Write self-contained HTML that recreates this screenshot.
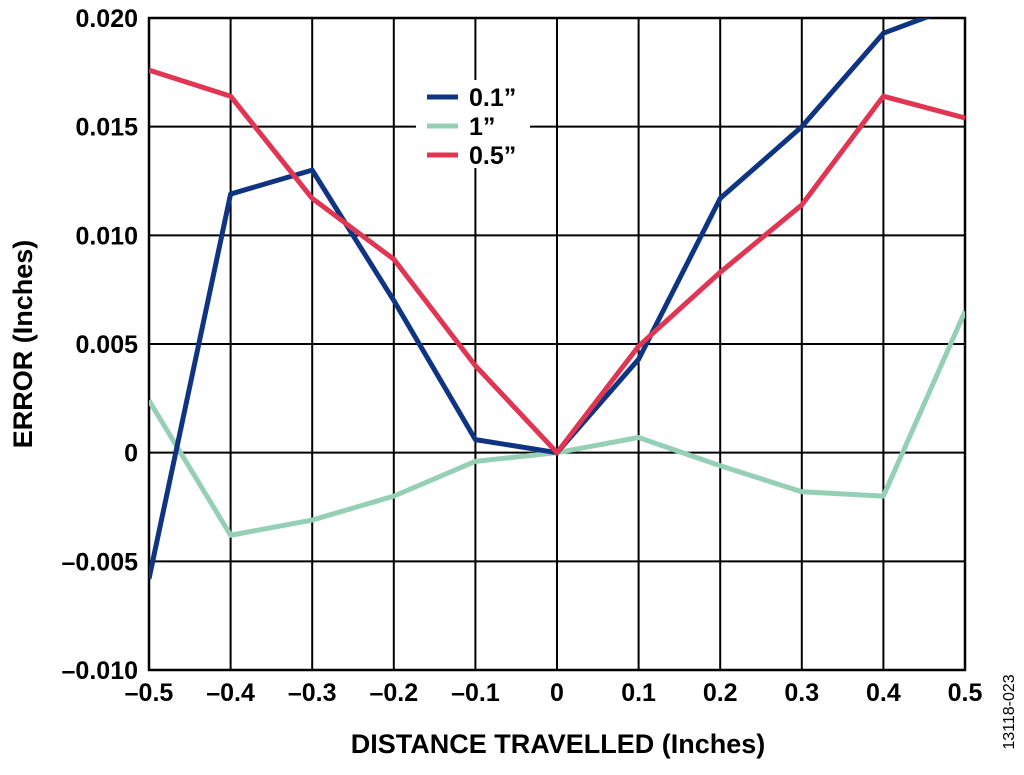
<!DOCTYPE html>
<html><head><meta charset="utf-8"><style>
body{margin:0;background:#fff;width:1024px;height:770px;overflow:hidden}
text{font-family:"Liberation Sans",Arial,sans-serif;font-weight:bold;fill:#000}
</style></head><body>
<svg id="chart" width="1024" height="770" xmlns="http://www.w3.org/2000/svg">
<defs><clipPath id="clip"><rect x="149" y="18" width="816" height="652"/></clipPath></defs>
<g id="grid"></g>
<g id="series" clip-path="url(#clip)"></g>
<g id="ticks"></g>
<g>
<rect x="416" y="80" width="114" height="88" fill="#fff"/>
<g><line x1="427" y1="97" x2="458" y2="97" stroke="#0f3582" stroke-width="5"/><text x="469" y="106" font-size="25">0.1”</text></g>
<g><line x1="427" y1="126" x2="458" y2="126" stroke="#95cfb5" stroke-width="5"/><text x="469" y="135" font-size="25">1”</text></g>
<g><line x1="427" y1="155" x2="458" y2="155" stroke="#e03553" stroke-width="5"/><text x="469" y="164" font-size="25">0.5”</text></g>
</g>
<text x="558" y="753" font-size="27" text-anchor="middle">DISTANCE TRAVELLED (Inches)</text>
<text transform="translate(32,344) rotate(-90)" font-size="27" text-anchor="middle">ERROR (Inches)</text>
<text transform="translate(1014,712) rotate(-90)" font-size="16" style="font-weight:normal" text-anchor="middle">13118-023</text>
</svg>
<script>
const xValues=[-0.5,-0.4,-0.3,-0.2,-0.1,0,0.1,0.2,0.3,0.4,0.5];
const series01=[-0.0058,0.0119,0.0130,0.0070,0.0006,0,0.0043,0.0117,0.0150,0.0193,0.0207];
const series1=[0.0024,-0.0038,-0.0031,-0.0020,-0.0004,0,0.0007,-0.0006,-0.0018,-0.0020,0.0065];
const series05=[0.0176,0.0164,0.0117,0.0089,0.0040,0,0.0049,0.0083,0.0114,0.0164,0.0154];
const xTickLabels=["–0.5","–0.4","–0.3","–0.2","–0.1","0","0.1","0.2","0.3","0.4","0.5"];
const yTicks=[-0.010,-0.005,0,0.005,0.010,0.015,0.020];
const yTickLabels=["–0.010","–0.005","0","0.005","0.010","0.015","0.020"];
const X0=149,X1=965,Y0=670,Y1=18;
const sx=v=>X0+(v+0.5)/1.0*(X1-X0);
const sy=v=>Y0-(v+0.010)/0.030*(Y0-Y1);
const NS="http://www.w3.org/2000/svg";
function mk(tag,attrs,parent){const e=document.createElementNS(NS,tag);for(const k in attrs)e.setAttribute(k,attrs[k]);parent.appendChild(e);return e;}
const grid=document.getElementById('grid'),ticks=document.getElementById('ticks'),ser=document.getElementById('series');
xValues.forEach((v,i)=>{const l=mk('line',{x1:sx(v),x2:sx(v),y1:Y1,y2:Y0,stroke:'#000','stroke-width':2},grid);


const t=mk('text',{x:sx(v),y:701,'font-size':25,'text-anchor':'middle'},ticks);t.textContent=xTickLabels[i];

});
yTicks.forEach((v,i)=>{const l=mk('line',{x1:X0,x2:X1,y1:sy(v),y2:sy(v),stroke:'#000','stroke-width':2},grid);


const t=mk('text',{x:138,y:sy(v)+9,'font-size':25,'text-anchor':'end'},ticks);t.textContent=yTickLabels[i];

});
const fr=mk('rect',{x:X0,y:Y1,width:X1-X0,height:Y0-Y1,fill:'none',stroke:'#000','stroke-width':2.5},grid);


[[series1,'#95cfb5','line-1in'],[series01,'#0f3582','line-0.1in'],[series05,'#e03553','line-0.5in']].forEach(([d,c,n])=>{
const p=mk('polyline',{points:d.map((v,i)=>sx(xValues[i])+','+sy(v)).join(' '),fill:'none',stroke:c,'stroke-width':5,'stroke-linejoin':'round'},ser);

});
</script>
</body></html>
